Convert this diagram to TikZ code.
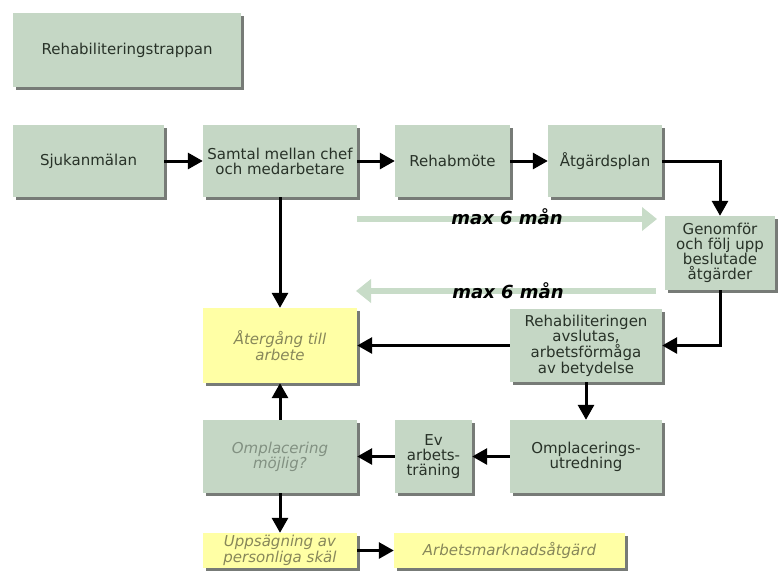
\documentclass[tikz,border=0pt]{standalone}
\usepackage{fontspec}
\setmainfont{DejaVu Sans}
\usetikzlibrary{shadows,arrows.meta}
\definecolor{boxfill}{RGB}{197,215,197}
\definecolor{yelfill}{RGB}{255,255,165}
\definecolor{boxtext}{RGB}{40,50,40}
\definecolor{yeltext}{RGB}{135,135,90}
\definecolor{graytext}{RGB}{130,145,130}
\definecolor{lightarrow}{RGB}{200,220,200}
\definecolor{shadowcol}{RGB}{85,90,85}
\tikzset{
  base/.style={draw=none, align=center, inner sep=0pt, font=\fontsize{15}{15}\selectfont,
    drop shadow={shadow xshift=3pt, shadow yshift=-3pt, fill=shadowcol, opacity=0.8}},
  gbox/.style={base, fill=boxfill, text=boxtext},
  ybox/.style={base, fill=yelfill, text=yeltext, font=\fontsize{15}{14.5}\selectfont\itshape},
  conn/.style={line width=3pt, -{Triangle[length=15pt,width=16pt]}},
  light/.style={line width=6pt, lightarrow, -{Triangle[length=15pt,width=23pt]}},
  durlabel/.style={font=\fontsize{18}{19}\selectfont\bfseries\itshape, text=black, inner sep=0pt}
}
\begin{document}
\begin{tikzpicture}[x=1pt,y=-1pt]
\useasboundingbox (0,0) rectangle (778,571);
\fill[white] (0,0) rectangle (778,571);

\node[gbox, minimum width=228pt, minimum height=74pt] (title) at (127,50) {Rehabiliteringstrappan};
\node[gbox, minimum width=151pt, minimum height=72pt] (sjuk) at (88.5,161) {Sjukanmälan};
\node[gbox, minimum width=154pt, minimum height=72pt] (samtal) at (280,161) {Samtal mellan chef\\och medarbetare};
\node[gbox, minimum width=115pt, minimum height=72pt] (rehab) at (452.5,161) {Rehabmöte};
\node[gbox, minimum width=114pt, minimum height=72pt] (atg) at (605,161) {Åtgärdsplan};
\node[gbox, minimum width=110pt, minimum height=74pt, font=\fontsize{15}{14.5}\selectfont] (genom) at (720,253) {Genomför\\och följ upp\\beslutade\\åtgärder};
\node[gbox, minimum width=152pt, minimum height=73pt, font=\fontsize{15}{14.5}\selectfont] (rehabil) at (586,345.5) {Rehabiliteringen\\avslutas,\\arbetsförmåga\\av betydelse};
\node[ybox, minimum width=154pt, minimum height=75pt] (ater) at (280,345.5) {Återgång till\\arbete};
\node[gbox, minimum width=154pt, minimum height=73pt, text=graytext, font=\fontsize{15}{15}\selectfont\itshape] (ompl) at (280,456.5) {Omplacering\\möjlig?};
\node[gbox, minimum width=77pt, minimum height=73pt] (ev) at (433.5,456.5) {Ev\\arbets-\\träning};
\node[gbox, minimum width=152pt, minimum height=73pt] (omplutr) at (586,456.5) {Omplacerings-\\utredning};
\node[ybox, minimum width=154pt, minimum height=35pt] (upps) at (280,550.5) {Uppsägning av\\personliga skäl};
\node[ybox, minimum width=231pt, minimum height=35pt] (arbm) at (509.5,550.5) {Arbetsmarknadsåtgärd};

% connectors
\draw[conn] (sjuk) -- (samtal);
\draw[conn] (samtal) -- (rehab);
\draw[conn] (rehab) -- (atg);
\draw[conn] (atg.east) -| (genom.north);
\draw[conn] (samtal) -- (ater);
\draw[conn] (genom.south) |- (rehabil.east);
\draw[conn] (rehabil) -- (ater);
\draw[conn] (rehabil) -- (omplutr);
\draw[conn] (omplutr) -- (ev);
\draw[conn] (ev) -- (ompl);
\draw[conn] (ompl) -- (ater);
\draw[conn] (ompl) -- (upps);
\draw[conn] (upps) -- (arbm);

% duration arrows
\coordinate (t1) at (357,219);
\coordinate (t2) at (657,219);
\coordinate (b1) at (656,291);
\coordinate (b2) at (356,291);
\draw[light] (t1) -- (t2);
\draw[light] (b1) -- (b2);
\node[durlabel] (lab1) at (507,217) {max 6 mån};
\node[durlabel] (lab2) at (508,291) {max 6 mån};
\end{tikzpicture}
\end{document}
